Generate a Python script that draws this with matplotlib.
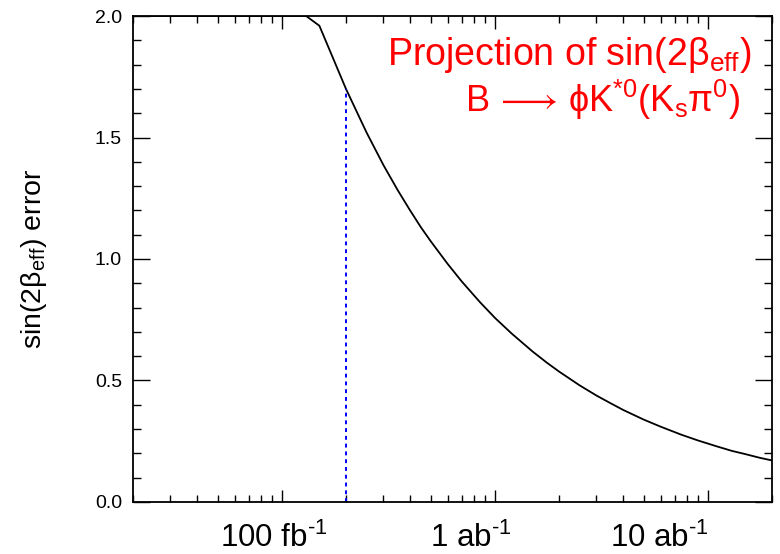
import numpy as np
import matplotlib
matplotlib.use('Agg')
import matplotlib.pyplot as plt
from matplotlib.ticker import FixedLocator, LogLocator, NullFormatter, MultipleLocator
from matplotlib.transforms import ScaledTranslation

plt.rcParams['font.family'] = ['Liberation Sans', 'DejaVu Sans']
plt.rcParams['mathtext.fontset'] = 'custom'
plt.rcParams['mathtext.rm'] = 'Liberation Sans'
plt.rcParams['mathtext.it'] = 'Liberation Sans:italic'
plt.rcParams['mathtext.bf'] = 'Liberation Sans:bold'
plt.rcParams['mathtext.fallback'] = 'stixsans'

# integrated luminosity (fb^-1) and projected sin(2beta_eff) error
lumi = [20, 130, 150, 200, 250, 300, 350, 400, 450, 500, 600, 700, 850,
        1000, 1200, 1500, 1750, 2000, 2500, 3000, 3500, 4000, 5000, 6000,
        7500, 9000, 11000, 13000, 15000, 17500, 20000]
err = [2.0, 2.0, 1.96, 1.70, 1.52, 1.386, 1.283, 1.20, 1.13, 1.073, 0.98, 0.907, 0.823,
       0.758, 0.693, 0.62, 0.574, 0.537, 0.48, 0.438, 0.406, 0.379, 0.339, 0.31,
       0.277, 0.253, 0.229, 0.21, 0.197, 0.182, 0.171]

marker_lumi = 200
marker_err = 1.70

tick_vals = [100, 1000, 10000]
tick_labels = [r'100 fb$^{\text{-1}}$', r'1 ab$^{\text{-1}}$', r'10 ab$^{\text{-1}}$']
label_shift = [-8, -24, -48]  # px, labels sit left of their ticks in the original

fig = plt.figure(figsize=(7.8, 5.54), dpi=100)
ax = fig.add_axes([0.1705, 0.0939, 0.8192, 0.8772])

ax.plot(lumi, err, color='black', lw=1.3)
ax.plot([marker_lumi, marker_lumi], [0, marker_err], color='blue', lw=1.4,
        linestyle=(0, (2, 2)))

ax.set_xscale('log')
ax.set_xlim(20, 20000)
ax.set_ylim(0, 2.0)

ax.xaxis.set_major_locator(FixedLocator(tick_vals))
ax.set_xticklabels(tick_labels)
ax.xaxis.set_minor_locator(LogLocator(base=10, subs=np.arange(2, 10)))
ax.xaxis.set_minor_formatter(NullFormatter())
ax.yaxis.set_major_locator(MultipleLocator(0.5))
ax.yaxis.set_minor_locator(MultipleLocator(0.1))
ax.yaxis.set_major_formatter(plt.FormatStrFormatter('%.1f'))

ax.tick_params(axis='both', which='both', direction='in', top=True, right=True,
               width=1.0, color='black')
ax.tick_params(axis='x', which='major', length=9, labelsize=22.5, pad=15)
ax.tick_params(axis='x', which='minor', length=5)
ax.tick_params(axis='y', which='major', length=12, labelsize=14, pad=8)
ax.tick_params(axis='y', which='minor', length=6)
for s in ax.spines.values():
    s.set_linewidth(1.3)

for lab, dx in zip(ax.get_xticklabels(), label_shift):
    lab.set_transform(lab.get_transform() + ScaledTranslation(dx / 100, 0, fig.dpi_scale_trans))

ax.set_ylabel(r'sin(2β$_{\rm eff}$) error', fontsize=20.5, labelpad=33)

ax.text(0.968, 0.899, r'Projection of sin(2β$_{\rm eff}$)', color='red',
        fontsize=27, ha='right', va='baseline', transform=ax.transAxes)
ax.text(0.950, 0.803, r'$\mathrm{B\,\longrightarrow\,\phi K^{*0}(K_s\pi^0)}$', color='red',
        fontsize=26, ha='right', va='baseline', transform=ax.transAxes)

fig.savefig('out.png', dpi=100)
